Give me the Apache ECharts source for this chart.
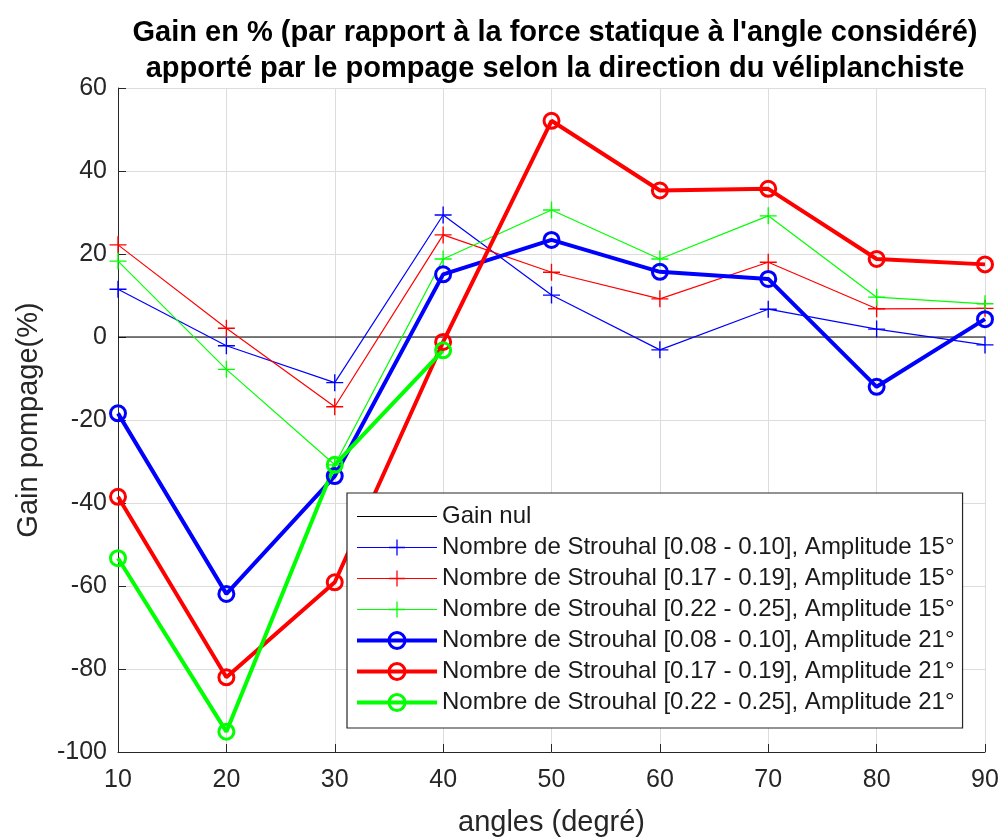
<!DOCTYPE html>
<html>
<head>
<meta charset="utf-8">
<script src="https://cdn.jsdelivr.net/npm/echarts@6/dist/echarts.min.js"></script>
<style>
html,body{margin:0;padding:0;background:#fff;}
#chart{width:1003px;height:837px;}
</style>
</head>
<body>
<div id="chart"></div>
<script>
// ---- data ----
const angles = [10, 20, 30, 40, 50, 60, 70, 80, 90];
const gainNul = [0, 0, 0, 0, 0, 0, 0, 0, 0];
const st008_a15 = [11.5, -2.1, -11.0, 29.4, 10.1, -3.1, 6.7, 1.9, -1.9];
const st017_a15 = [22.2, 2.1, -16.8, 24.6, 15.6, 9.2, 18.0, 6.8, 6.9];
const st022_a15 = [18.3, -7.8, -30.8, 18.8, 30.6, 18.8, 29.2, 9.6, 8.0];
const st008_a21 = [-18.4, -61.9, -33.5, 15.1, 23.4, 15.7, 14.0, -12.0, 4.3];
const st017_a21 = [-38.5, -82.0, -59.1, -1.2, 52.1, 35.3, 35.7, 18.8, 17.5];
const st022_a21 = [-53.3, -95.1, -30.8, -3.2];
const names = [
  'Gain nul',
  'Nombre de Strouhal [0.08 - 0.10], Amplitude 15°',
  'Nombre de Strouhal [0.17 - 0.19], Amplitude 15°',
  'Nombre de Strouhal [0.22 - 0.25], Amplitude 15°',
  'Nombre de Strouhal [0.08 - 0.10], Amplitude 21°',
  'Nombre de Strouhal [0.17 - 0.19], Amplitude 21°',
  'Nombre de Strouhal [0.22 - 0.25], Amplitude 21°'
];
const titleText = "Gain en % (par rapport à la force statique à l'angle considéré)\napporté par le pompage selon la direction du véliplanchiste";
const xName = 'angles (degré)';
const yName = 'Gain pompage(%)';

const pair = (ys) => ys.map((v, i) => [angles[i], v]);
const PLUS = 'path://M0,9.2H20V10.8H0Z M9.2,0H10.8V20H9.2Z';
const FONT = '"Liberation Sans", Arial, Helvetica, sans-serif';
const TXT = '#262626';

function thin(name, ys, color) {
  return {
    name, type: 'line', data: pair(ys), symbol: PLUS, symbolSize: 17,
    lineStyle: { color, width: 1.2 }, itemStyle: { color, borderWidth: 0 },
    animation: false, emphasis: { disabled: true }
  };
}
function thick(name, ys, color) {
  return {
    name, type: 'line', data: pair(ys), symbol: 'circle', symbolSize: 15,
    lineStyle: { color, width: 4 },
    itemStyle: { color: 'rgba(0,0,0,0)', borderColor: color, borderWidth: 3 },
    animation: false, emphasis: { disabled: true }
  };
}

const chart = echarts.init(document.getElementById('chart'), null, { renderer: 'canvas' });
chart.setOption({
  backgroundColor: '#fff',
  animation: false,
  textStyle: { fontFamily: FONT },
  title: {
    text: titleText, left: 550, top: 10, textAlign: 'center',
    textStyle: { fontFamily: FONT, fontSize: 29, fontWeight: 'bold', color: '#000', lineHeight: 36 }
  },
  grid: { left: 118, right: 18, top: 88, bottom: 85, containLabel: false, outerBoundsMode: 'none' },
  xAxis: {
    type: 'value', min: 10, max: 90, interval: 10,
    name: xName, nameLocation: 'middle', nameGap: 56,
    nameTextStyle: { fontFamily: FONT, fontSize: 29, color: TXT },
    axisLine: { onZero: false, lineStyle: { color: TXT, width: 1 } },
    axisTick: { inside: true, length: 8, lineStyle: { color: TXT } },
    axisLabel: { fontFamily: FONT, fontSize: 25, color: TXT, margin: 16 },
    splitLine: { show: true, lineStyle: { color: '#dcdcdc', width: 1 } }
  },
  yAxis: {
    type: 'value', min: -100, max: 60, interval: 20,
    name: yName, nameLocation: 'middle', nameGap: 75, nameRotate: 90,
    nameTextStyle: { fontFamily: FONT, fontSize: 29, color: TXT },
    axisLine: { onZero: false, lineStyle: { color: TXT, width: 1 } },
    axisTick: { show: true, inside: true, length: 8, lineStyle: { color: TXT } },
    axisLabel: { fontFamily: FONT, fontSize: 25, color: TXT, margin: 11 },
    splitLine: { show: true, lineStyle: { color: '#dcdcdc', width: 1 } }
  },
  legend: {
    orient: 'vertical', left: 347, top: 493,
    backgroundColor: '#fff', borderColor: TXT, borderWidth: 1.2,
    padding: [8, 8, 10, 8], itemGap: 0, itemWidth: 80, itemHeight: 20,
    textStyle: { fontFamily: FONT, fontSize: 24, color: '#1a1a1a', lineHeight: 31 },
    data: names.map((n, i) => i >= 4
      ? { name: n, itemStyle: { borderWidth: 3 }, lineStyle: { width: 4 } }
      : { name: n, lineStyle: { width: 1.2 } })
  },
  series: [
    {
      name: names[0], type: 'line', data: pair(gainNul), symbol: 'circle', showSymbol: false,
      lineStyle: { color: '#000', width: 1 }, itemStyle: { color: 'rgba(0,0,0,0)' },
      animation: false, emphasis: { disabled: true }
    },
    thin(names[1], st008_a15, '#0000ff'),
    thin(names[2], st017_a15, '#ff0000'),
    thin(names[3], st022_a15, '#00ff00'),
    thick(names[4], st008_a21, '#0000ff'),
    thick(names[5], st017_a21, '#ff0000'),
    thick(names[6], st022_a21, '#00ff00')
  ]
});
</script>
</body>
</html>
